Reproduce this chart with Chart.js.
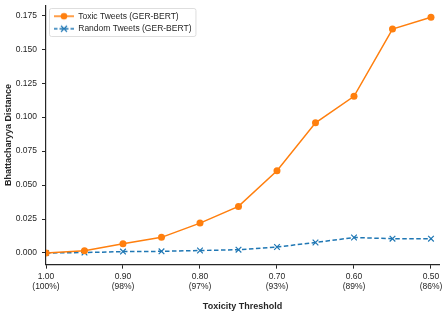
<!DOCTYPE html>
<html>
<head>
<meta charset="utf-8">
<script src="https://cdn.jsdelivr.net/npm/chart.js@4"></script>
<style>
  html,body{margin:0;padding:0;background:#fff;}
  #wrap{width:448px;height:316px;}
</style>
</head>
<body>
<div id="wrap"><canvas id="chart" width="448" height="316"></canvas></div>
<script>
// ===== 資料 =====
const thresholds = [1.00, 0.95, 0.90, 0.85, 0.80, 0.75, 0.70, 0.65, 0.60, 0.55, 0.50];
const toxicDist  = [0.0000, 0.0016, 0.0068, 0.0115, 0.0220, 0.0343, 0.0605, 0.0958, 0.1153, 0.1648, 0.1735];
const randomDist = [0.0000, 0.0003, 0.0010, 0.0012, 0.0018, 0.0024, 0.0044, 0.0077, 0.0114, 0.0105, 0.0105];
const seriesNames = ['Toxic Tweets (GER-BERT)', 'Random Tweets (GER-BERT)'];

// 刻度
const xTickValues = [1.00, 0.90, 0.80, 0.70, 0.60, 0.50];
const xTickPcts   = ['100%', '98%', '97%', '93%', '89%', '86%'];
const yTickValues = [0, 0.025, 0.05, 0.075, 0.1, 0.125, 0.15, 0.175];

const ORANGE = '#ff7f0e', BLUE = '#1f77b4', INK = '#262626';
const FONT = '"Liberation Sans", Arial, sans-serif';

// 圖例小圖：線 + 標記
function legendIcon(color, dashed, marker){
  const c = document.createElement('canvas');
  c.width = 20; c.height = 10;
  const g = c.getContext('2d');
  g.strokeStyle = color; g.lineWidth = 1.5;
  if(dashed) g.setLineDash([3.5, 2]);
  g.beginPath(); g.moveTo(0, 5); g.lineTo(20, 5); g.stroke();
  g.setLineDash([]);
  if(marker === 'circle'){
    g.fillStyle = color;
    g.beginPath(); g.arc(10, 5, 3.3, 0, Math.PI*2); g.fill();
  } else {
    g.lineWidth = 1.2;
    g.beginPath();
    g.moveTo(7, 2); g.lineTo(13, 8);
    g.moveTo(13, 2); g.lineTo(7, 8);
    g.stroke();
  }
  return c;
}
const icons = [legendIcon(ORANGE, false, 'circle'), legendIcon(BLUE, true, 'x')];

// 圖例外框 + 位置微調
const legendFrame = {
  id: 'legendFrame',
  afterLayout(chart){
    chart.legend.left += 4;
    chart.legend.top += 8;
  },
  afterDraw(chart){
    const boxes = chart.legend.legendHitBoxes;
    if(!boxes || !boxes.length) return;
    let l = Infinity, t = Infinity, r = -Infinity, b = -Infinity;
    boxes.forEach(h => {
      l = Math.min(l, h.left); t = Math.min(t, h.top);
      r = Math.max(r, h.left + h.width); b = Math.max(b, h.top + h.height);
    });
    const ctx = chart.ctx;
    ctx.save();
    ctx.strokeStyle = '#d6d6d6'; ctx.lineWidth = 0.8;
    ctx.beginPath();
    ctx.roundRect(l - 4.5, t - 3.5, r - l + 9, b - t + 7, 2);
    ctx.stroke();
    ctx.restore();
  }
};

const ctx = document.getElementById('chart').getContext('2d');
new Chart(ctx, {
  type: 'line',
  data: {
    datasets: [
      {
        label: seriesNames[0],
        data: thresholds.map((x, i) => ({x, y: toxicDist[i]})),
        borderColor: ORANGE, backgroundColor: ORANGE,
        borderWidth: 1.5, pointStyle: 'circle', pointRadius: 3.5,
        pointBorderWidth: 0, tension: 0
      },
      {
        label: seriesNames[1],
        data: thresholds.map((x, i) => ({x, y: randomDist[i]})),
        borderColor: BLUE, backgroundColor: BLUE,
        borderWidth: 1.5, borderDash: [4.5, 2.5],
        pointStyle: 'crossRot', pointRadius: 4, pointBorderWidth: 1.2, tension: 0
      }
    ]
  },
  options: {
    responsive: false,
    animation: false,
    layout: { padding: { top: 5, right: 9, left: 3, bottom: 4 } },
    plugins: {
      legend: {
        position: 'chartArea',
        align: 'start',
        labels: {
          usePointStyle: true,
          pointStyleWidth: 20,
          padding: 4,
          color: INK,
          font: { family: FONT, size: 8.5 },
          generateLabels(chart){
            return chart.data.datasets.map((d, i) => ({
              text: d.label, pointStyle: icons[i], datasetIndex: i,
              fillStyle: d.borderColor, strokeStyle: d.borderColor, lineWidth: 0, hidden: false, fontColor: INK
            }));
          }
        }
      },
      tooltip: { enabled: false }
    },
    scales: {
      x: {
        type: 'linear',
        reverse: true,
        min: 0.4896,
        max: 1.0,
        afterBuildTicks(scale){ scale.ticks = xTickValues.map(v => ({value: v})); },
        ticks: {
          color: INK, font: { family: FONT, size: 8.5, lineHeight: 1.15 }, padding: 3, maxRotation: 0,
          callback(v){
            const i = xTickValues.findIndex(t => Math.abs(t - v) < 1e-6);
            return i < 0 ? '' : [v.toFixed(2), '(' + xTickPcts[i] + ')'];
          }
        },
        grid: { display: true, drawOnChartArea: false, drawTicks: true, tickLength: 4, color: INK, lineWidth: 1 },
        border: { display: true, color: INK, width: 1.2 },
        title: { display: true, text: 'Toxicity Threshold', color: INK, font: { family: FONT, size: 9, weight: 'bold' }, padding: { top: 7, bottom: 0 } }
      },
      y: {
        type: 'linear',
        min: -0.0086,
        max: 0.1824,
        afterBuildTicks(scale){ scale.ticks = yTickValues.map(v => ({value: v})); },
        afterFit(scale){ scale.width = 43; scale.paddingTop = 0; },
        ticks: {
          color: INK, font: { family: FONT, size: 8.5 }, padding: 5,
          callback(v){ return v.toFixed(3); }
        },
        grid: { display: true, drawOnChartArea: false, drawTicks: true, tickLength: 4, color: INK, lineWidth: 1 },
        border: { display: true, color: INK, width: 1.2 },
        title: { display: true, text: 'Bhattacharyya Distance', color: INK, font: { family: FONT, size: 9, weight: 'bold' }, padding: { top: 0, bottom: 3 } }
      }
    }
  },
  plugins: [legendFrame]
});
</script>
</body>
</html>
